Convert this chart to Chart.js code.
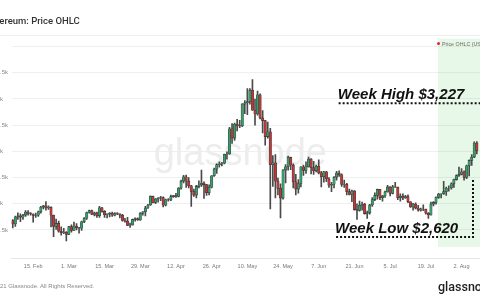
<!DOCTYPE html>
<html>
<head>
<meta charset="utf-8">
<script src="https://cdn.jsdelivr.net/npm/chart.js@4.4.1/dist/chart.umd.min.js"></script>
<style>
  html, body { margin: 0; padding: 0; background: #fff; }
  body { width: 480px; height: 300px; overflow: hidden; position: relative; }
  #wrap { position: absolute; left: -20px; top: 0; width: 510px; height: 300px; }
  .txt { position: absolute; white-space: nowrap; line-height: 1; }
  .title { left: -14.5px; top: 14.7px; font: 500 9.5px Roboto; color: #333; }
  .rule { position: absolute; left: 0; width: 480px; top: 35px; height: 1px; background: #eee; }
  .legend { left: 442px; top: 40.6px; font: 5.3px "Liberation Sans"; color: #666; }
  .dot { position: absolute; left: 436.5px; top: 41.5px; width: 3px; height: 3px; border-radius: 50%; background: #e0262b; }
  .footer { left: -12.8px; top: 282.9px; font: 6px "Liberation Sans"; color: #888; }
  .logo { left: 438px; top: 279px; font: 500 12.5px Roboto; color: #1e1e1e; }
</style>
</head>
<body>
<div id="wrap"><canvas id="ohlc"></canvas></div>
<div class="txt title">Ethereum: Price OHLC</div>
<div class="rule"></div>
<div class="dot"></div>
<div class="txt legend">Price OHLC (USD)</div>
<div class="txt footer">© 2021 Glassnode. All Rights Reserved.</div>
<div class="txt logo">glassnode</div>
<script>
// days from 7. Feb to 10. Aug 2021 (last two are empty)
const months = ["Feb", "Mar", "Apr", "May", "Jun", "Jul", "Aug"];
const monthDays = [28, 31, 30, 31, 30, 31, 10];
const days = [];
months.forEach((m, k) => {
  for (let d = (k === 0 ? 7 : 1); d <= monthDays[k]; d++) days.push(d + ". " + m);
});

const tickLabels = ["15. Feb", "1. Mar", "15. Mar", "29. Mar", "12. Apr", "26. Apr", "10. May",
  "24. May", "7. Jun", "21. Jun", "5. Jul", "19. Jul", "2. Aug"];
const yTicks = [1500, 2000, 2500, 3000, 3500, 4000, 4500, 5000];

const opens = [
  1678,1614,1746,1768,1744,1783,1843,1814,1805,1779,1781,1848,1937,1960,1919,1935,1781,1570,1626,1475,1446,1459,
  1417,1564,1492,1575,1541,1533,1655,1723,1834,1868,1795,1826,1772,1924,1855,1791,1806,1823,1782,1815,1806,1782,1680,1669,1587,1594,1702,1716,1691,1819,1847,
  1919,1977,2143,2028,2093,2108,2116,1972,2076,2072,2136,2154,2139,2299,2432,2515,2431,2344,2237,2166,2331,2357,2397,2366,2211,2316,2534,2662,2746,2757,
  2773,2945,2950,3431,3253,3522,3490,3484,3902,3928,3952,4168,3785,3715,4079,3638,3587,3282,3374,2744,2781,2430,2295,2109,2643,2706,2888,2736,2419,2279,2386,
  2706,2634,2707,2855,2689,2630,2715,2590,2517,2609,2472,2353,2372,2508,2586,2552,2367,2372,2231,2178,2246,1888,1875,1971,1990,1812,1829,1978,2080,2160,
  2274,2114,2150,2226,2322,2198,2324,2317,2116,2146,2111,2139,2037,1940,1995,1918,1880,1899,1895,1820,1787,1994,2026,2123,2187,2189,2231,2300,2300,2381,2462,
  2536,2560,2610,2502,2724,2828,2890,3158
];
const highs = [
  1700,1765,1825,1810,1800,1870,1870,1830,1810,1820,1860,1950,1970,2042,1960,1940,1782,1710,1670,1560,1530,1470,
  1570,1600,1650,1620,1550,1670,1735,1840,1880,1880,1840,1840,1950,1930,1870,1810,1830,1840,1830,1830,1810,1800,1720,1740,1630,1710,1730,1730,1830,1850,1950,
  1990,2150,2145,2100,2120,2140,2130,2090,2100,2165,2160,2200,2310,2450,2545,2548,2500,2350,2280,2350,2440,2641,2420,2370,2360,2540,2680,2760,2800,2790,
  2950,2990,3460,3530,3540,3610,3590,3910,3970,4200,4200,4372,4000,4150,4100,3780,3590,3560,3440,2920,2940,2490,2380,2650,2750,2910,2890,2760,2560,2460,2710,
  2740,2800,2890,2860,2810,2740,2840,2620,2620,2620,2500,2410,2520,2620,2630,2570,2450,2390,2280,2260,2250,2000,2050,2030,2010,1860,1990,2120,2210,2280,
  2275,2160,2240,2350,2330,2350,2410,2320,2190,2190,2160,2170,2040,2010,2020,1970,1920,1980,1900,1830,2030,2040,2130,2200,2190,2430,2320,2340,2400,2470,2550,
  2700,2670,2630,2740,2840,2940,3180,3185
];
const lows = [
  1540,1570,1700,1660,1700,1760,1780,1780,1650,1740,1760,1820,1900,1880,1890,1560,1370,1510,1460,1400,1430,1293,
  1410,1460,1490,1500,1440,1490,1640,1700,1820,1790,1770,1740,1740,1840,1740,1730,1750,1760,1770,1790,1730,1670,1650,1580,1550,1590,1670,1680,1680,1780,1770,
  1910,1970,2015,2000,2030,2060,1940,1960,2050,2060,2120,2120,2130,2280,2400,2310,2300,1950,2140,2110,2300,2330,2100,2160,2170,2300,2520,2580,2700,2720,
  2760,2850,2940,3150,3210,3390,3450,3470,3720,3700,3900,3780,3500,3690,3620,3350,3120,3250,1900,2330,2110,2170,1730,2090,2400,2640,2650,2300,2170,2200,2320,
  2540,2580,2700,2570,2560,2610,2570,2320,2410,2420,2310,2230,2300,2450,2520,2330,2310,2170,2170,2040,1880,1700,1860,1880,1800,1720,1800,1950,2060,2090,
  2080,2050,2120,2220,2150,2190,2310,2080,2050,2080,2100,2020,1930,1880,1900,1860,1860,1870,1800,1718,1780,1960,1990,2100,2110,2180,2160,2240,2280,2310,2450,
  2520,2550,2450,2480,2530,2730,2880,2950
];
const closes = [
  1614,1746,1768,1744,1783,1843,1814,1805,1779,1781,1848,1937,1960,1919,1935,1781,1570,1626,1475,1446,1459,1417,
  1564,1492,1575,1541,1533,1655,1723,1834,1868,1795,1826,1772,1924,1855,1791,1806,1823,1782,1815,1806,1782,1680,1669,1587,1594,1702,1716,1691,1819,1847,1919,
  1977,2143,2028,2093,2108,2116,1972,2076,2072,2136,2154,2139,2299,2432,2515,2431,2344,2237,2166,2331,2357,2397,2366,2211,2316,2534,2662,2746,2757,2773,
  2945,2950,3431,3253,3522,3490,3484,3902,3928,3952,4168,3785,3715,4079,3638,3587,3282,3374,2744,2781,2430,2295,2109,2643,2706,2888,2736,2419,2279,2386,2706,
  2634,2707,2855,2689,2630,2715,2590,2517,2609,2472,2353,2372,2508,2586,2552,2367,2372,2231,2178,2246,1888,1875,1971,1990,1812,1829,1978,2080,2160,2274,
  2114,2150,2226,2322,2198,2324,2317,2116,2146,2111,2139,2037,1940,1995,1918,1880,1899,1895,1820,1787,1994,2026,2123,2187,2189,2231,2300,2300,2381,2462,2536,
  2560,2610,2502,2724,2828,2890,3158,3013
];

// hand drawn notes, in day index / USD units
const boxStart = 166.75, boxBottom = 1175;
const highFrom = 127.8, highLevel = 3920, highTextAt = 127.5, highTextLevel = 3990;
const lowFrom = 126.8, lowTo = 180.5, lowLevel = 1366, lowTop = 2490, lowTextAt = 126.4, lowTextLevel = 1443;

const up = "#34a06b", down = "#c23838";
const bodyColors = closes.map((c, i) => c >= opens[i] ? up : down);

const notes = {
  id: "notes",
  beforeDatasetsDraw(chart) {
    const { ctx, chartArea: a, scales: { x, y } } = chart;
    ctx.save();
    ctx.fillStyle = "#ededed";
    ctx.font = "38px 'Liberation Sans'";
    ctx.textAlign = "center";
    ctx.fillText("glassnode", (a.left + a.right) / 2 - 7, (a.top + a.bottom) / 2 + 16.5);
    const bx = x.getPixelForValue(boxStart);
    ctx.fillStyle = "rgba(120, 215, 120, 0.17)";
    ctx.fillRect(bx, a.top, a.right - bx, y.getPixelForValue(boxBottom) - a.top);
    ctx.restore();
  },
  afterDatasetsDraw(chart) {
    const { ctx, chartArea: a, scales: { x, y } } = chart;
    ctx.save();
    ctx.strokeStyle = "#111";
    ctx.lineWidth = 2;
    ctx.setLineDash([2, 2]);
    const yh = y.getPixelForValue(highLevel);
    ctx.beginPath();
    ctx.moveTo(x.getPixelForValue(highFrom), yh);
    ctx.lineTo(a.right, yh);
    ctx.stroke();
    const yl = y.getPixelForValue(lowLevel), xr = x.getPixelForValue(lowTo);
    ctx.beginPath();
    ctx.moveTo(x.getPixelForValue(lowFrom), yl);
    ctx.lineTo(xr, yl);
    ctx.lineTo(xr, y.getPixelForValue(lowTop));
    ctx.stroke();
    ctx.setLineDash([]);
    ctx.fillStyle = "#111";
    ctx.font = "italic bold 15px 'Liberation Sans'";
    ctx.textAlign = "left";
    ctx.fillText("Week High $3,227", x.getPixelForValue(highTextAt), y.getPixelForValue(highTextLevel));
    ctx.fillText("Week Low $2,620", x.getPixelForValue(lowTextAt), y.getPixelForValue(lowTextLevel));
    ctx.restore();
  }
};

new Chart(document.getElementById("ohlc"), {
  type: "bar",
  data: {
    labels: days,
    datasets: [
      {
        label: "wick",
        data: lows.map((l, i) => [l, highs[i]]),
        backgroundColor: "#4a4a4a",
        barThickness: 1,
        grouped: false,
        order: 2,
      },
      {
        label: "Price OHLC (USD)",
        data: closes.map((c, i) => [opens[i], c]),
        backgroundColor: bodyColors,
        borderColor: "rgba(35,35,35,0.8)",
        borderWidth: 0.6,
        borderSkipped: false,
        barThickness: 2.5,
        grouped: false,
        order: 1,
      },
    ],
  },
  options: {
    responsive: true,
    maintainAspectRatio: false,
    animation: false,
    layout: { padding: { left: 13.3, right: 6.8, top: 38.7, bottom: 0 } },
    plugins: { legend: { display: false }, tooltip: { enabled: false } },
    scales: {
      x: {
        grid: { display: false, drawTicks: false, tickLength: 0 },
        border: { display: true, color: "#e6e6e6" },
        ticks: {
          autoSkip: false, maxRotation: 0, minRotation: 0, padding: 5,
          color: "#777", font: { family: "Liberation Sans", size: 5.5 },
          callback: (v) => tickLabels.includes(days[v]) ? days[v] : "",
        },
        afterFit: (s) => { s.height = 42; },
      },
      y: {
        min: 965,
        max: 5150,
        grid: { color: "#efefef", drawTicks: false, tickLength: 0 },
        border: { display: false },
        ticks: {
          crossAlign: "far", padding: 0, color: "#888", font: { family: "Liberation Sans", size: 6 },
          callback: (v) => v === 5000 ? "" : "$" + v / 1000 + "k",
        },
        afterBuildTicks: (s) => { s.ticks = yTicks.map((v) => ({ value: v })); },
        afterFit: (s) => { s.width = 18.2; },
      },
    },
  },
  plugins: [notes],
});
</script>
</body>
</html>
